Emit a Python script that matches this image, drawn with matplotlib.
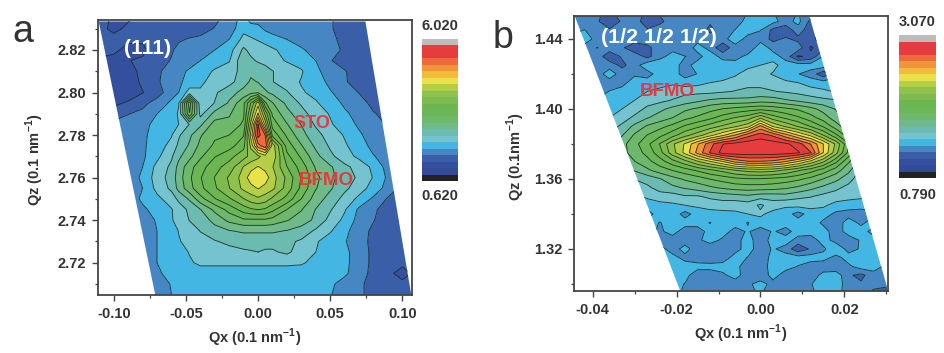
import numpy as np
import matplotlib

matplotlib.use("Agg")
import matplotlib.pyplot as plt
from matplotlib.colors import ListedColormap, BoundaryNorm
from matplotlib.patches import Polygon

plt.rcParams["font.family"] = ["Liberation Sans", "DejaVu Sans"]
plt.rcParams["font.weight"] = "bold"
plt.rcParams["mathtext.fontset"] = "custom"
plt.rcParams["mathtext.bf"] = "Liberation Sans:bold"
plt.rcParams["mathtext.rm"] = "Liberation Sans:bold"

W, H = 945, 353
INK = "#333333"
RED = "#e8383d"

band_colors = ["#324a9a", "#354f9f", "#3a5ea8", "#4686c2", "#44b6e4",
               "#76c3d0", "#6bbbb0", "#6fba88", "#6db86a", "#6bb655",
               "#6cb651", "#7dbb4e", "#8fc24c", "#b4cf45", "#e9e24b",
               "#f3bb3c", "#f1953a", "#ec6a3b", "#e73c3d", "#e73c3d"]
under_color = "#222222"
over_color = "#bdbdbd"

# panel a, (111) reflection
qx_a = [-0.11, -0.10, -0.09, -0.08, -0.07, -0.06, -0.055, -0.0475, -0.04, -0.03, -0.02, -0.01, -0.005,
        0.0, 0.005, 0.01, 0.02, 0.03, 0.04, 0.05, 0.06, 0.07, 0.08, 0.09, 0.10, 0.11]
qz_a = [2.835, 2.83, 2.825, 2.82, 2.815, 2.81, 2.805, 2.80, 2.795, 2.79, 2.785, 2.78, 2.775, 2.77,
        2.765, 2.76, 2.755, 2.75, 2.745, 2.74, 2.735, 2.73, 2.725, 2.72, 2.715, 2.71, 2.705]
intensity_a = [
    [1.3,1.1,1.1,1.3,1.3,1.3,1.3,1.3,1.3,1.35,1.55,1.8,1.55,1.55,1.55,1.55,1.55,1.55,1.5,1.45,1.35,1.3,1.3,1.3,1.3,1.3],
    [1.3,1.05,1.25,1.3,1.3,1.3,1.3,1.3,1.3,1.45,1.55,1.9,1.85,1.8,1.65,1.55,1.55,1.55,1.5,1.45,1.35,1.3,1.3,1.3,1.3,1.3],
    [1.3,1.3,1.2,1.2,1.3,1.3,1.4,1.45,1.5,1.55,1.7,2.05,2.0,1.95,1.9,1.85,1.7,1.55,1.5,1.5,1.35,1.3,1.3,1.3,1.3,1.3],
    [1.3,1.2,1.1,1.1,1.3,1.4,1.5,1.55,1.55,1.7,1.85,2.3,2.15,2.1,2.05,2.0,1.9,1.75,1.55,1.5,1.4,1.3,1.3,1.3,1.3,1.3],
    [1.1,1.1,1.15,1.2,1.3,1.45,1.5,1.55,1.7,1.85,1.95,2.45,2.3,2.2,2.15,2.05,1.95,1.85,1.7,1.45,1.3,1.3,1.3,1.3,1.3,1.3],
    [1.0,1.0,1.1,1.2,1.4,1.5,1.6,1.75,1.85,2.0,2.1,2.35,2.45,2.45,2.35,2.25,2.1,2.0,1.75,1.6,1.45,1.3,1.3,1.3,1.3,1.3],
    [1.1,1.0,1.05,1.2,1.4,1.55,1.65,1.8,1.93,2.05,2.15,2.4,2.55,2.5,2.4,2.25,2.1,1.95,1.8,1.65,1.45,1.35,1.3,1.3,1.3,1.3],
    [1.15,1.0,1.0,1.15,1.3,1.6,1.7,2.1,2.0,2.2,2.4,2.6,2.7,2.75,2.55,2.45,2.27,2.0,1.9,1.72,1.6,1.42,1.3,1.3,1.3,1.3],
    [1.25,1.1,1.2,1.35,1.55,1.75,1.95,3.5,2.05,2.25,2.55,3.0,3.6,4.3,3.1,2.8,2.45,2.2,2.0,1.85,1.65,1.55,1.35,1.3,1.3,1.3],
    [1.3,1.3,1.42,1.5,1.7,1.85,2.0,3.3,2.15,2.6,2.75,3.0,3.9,4.7,3.8,3.0,2.6,2.35,2.1,1.95,1.75,1.6,1.45,1.35,1.3,1.3],
    [1.4,1.5,1.55,1.65,1.75,1.85,1.97,2.25,2.45,2.9,2.85,3.1,4.2,5.5,4.3,3.2,2.8,2.5,2.2,2.0,1.85,1.65,1.55,1.4,1.3,1.3],
    [1.5,1.5,1.55,1.65,1.8,1.95,2.2,2.45,2.75,3.0,3.05,3.3,4.5,5.6,5.2,3.5,3.0,2.6,2.35,2.1,1.95,1.75,1.55,1.45,1.3,1.3],
    [1.5,1.5,1.55,1.65,1.85,2.05,2.3,2.55,2.85,3.1,3.2,3.5,4.2,5.1,5.4,4.3,3.2,2.8,2.45,2.2,2.0,1.85,1.6,1.5,1.3,1.3],
    [1.5,1.5,1.5,1.65,1.9,2.2,2.45,2.7,3.0,3.3,3.5,3.75,3.95,4.05,4.3,4.35,3.4,3.0,2.6,2.3,2.1,1.9,1.72,1.55,1.35,1.3],
    [1.5,1.5,1.55,1.7,2.05,2.3,2.6,2.95,3.2,3.5,3.7,4.15,4.3,4.42,4.3,4.15,3.6,3.2,2.75,2.55,2.3,2.15,1.9,1.6,1.4,1.3],
    [1.5,1.5,1.55,1.75,2.1,2.35,2.65,3.0,3.3,3.6,3.9,4.25,4.55,4.62,4.55,4.25,3.8,3.3,2.85,2.6,2.35,2.2,1.95,1.65,1.4,1.3],
    [1.5,1.5,1.55,1.7,2.05,2.3,2.6,2.95,3.25,3.55,3.85,4.2,4.3,4.42,4.3,4.2,3.75,3.25,2.8,2.55,2.3,2.1,1.85,1.6,1.35,1.3],
    [1.5,1.45,1.55,1.75,1.9,2.1,2.3,2.55,2.95,3.3,3.55,3.85,4.0,4.08,4.0,3.8,3.5,3.05,2.65,2.4,2.15,1.9,1.65,1.4,1.3,1.3],
    [1.5,1.45,1.5,1.65,1.8,1.95,2.1,2.3,2.5,2.85,3.15,3.45,3.55,3.6,3.55,3.4,3.05,2.8,2.5,2.27,2.0,1.65,1.5,1.25,1.3,1.3],
    [1.5,1.5,1.5,1.6,1.72,1.95,2.05,2.25,2.35,2.6,2.85,3.0,3.0,3.0,3.0,2.95,2.8,2.65,2.45,2.15,1.9,1.6,1.45,1.2,1.25,1.3],
    [1.5,1.5,1.5,1.55,1.7,1.85,1.98,2.1,2.25,2.4,2.5,2.55,2.55,2.55,2.55,2.55,2.5,2.4,2.2,2.0,1.75,1.6,1.35,1.2,1.2,1.3],
    [1.5,1.5,1.5,1.55,1.7,1.8,1.95,2.05,2.15,2.22,2.3,2.35,2.35,2.35,2.35,2.35,2.3,2.2,2.0,1.85,1.72,1.55,1.35,1.2,1.2,1.3],
    [1.5,1.5,1.5,1.55,1.7,1.8,1.9,1.98,2.05,2.1,2.15,2.2,2.22,2.24,2.2,2.2,2.3,2.1,1.97,1.85,1.75,1.6,1.35,1.2,1.2,1.3],
    [1.5,1.5,1.5,1.5,1.7,1.8,1.85,1.95,2.0,2.0,2.0,2.0,2.0,2.0,2.0,2.0,2.0,2.0,1.9,1.85,1.75,1.6,1.35,1.2,1.2,1.3],
    [1.5,1.5,1.5,1.5,1.65,1.8,1.85,1.85,1.9,1.9,1.9,1.9,1.9,1.9,1.9,1.9,1.9,1.85,1.85,1.8,1.75,1.55,1.35,1.2,1.1,1.2],
    [1.5,1.5,1.5,1.5,1.55,1.72,1.8,1.85,1.85,1.85,1.85,1.85,1.85,1.85,1.85,1.85,1.85,1.85,1.8,1.75,1.6,1.5,1.3,1.25,1.2,1.25],
    [1.5,1.5,1.5,1.5,1.55,1.7,1.8,1.85,1.85,1.85,1.85,1.85,1.85,1.85,1.85,1.85,1.85,1.8,1.8,1.72,1.55,1.5,1.3,1.25,1.25,1.25],
]
region_a = [(-0.1104, 2.8334), (0.0744, 2.8334), (0.1062, 2.7048), (-0.0712, 2.7048)]
vmin_a, vmax_a = 0.62, 6.02

# panel b, (1/2 1/2 1/2) reflection
qx_b = [-0.045, -0.042, -0.039, -0.036, -0.033, -0.03, -0.027, -0.024, -0.021, -0.018, -0.015, -0.012, -0.009,
        -0.006, -0.003, 0.0, 0.003, 0.006, 0.009, 0.012, 0.015, 0.018, 0.021, 0.024, 0.027, 0.03]
qz_b = [1.455, 1.45, 1.445, 1.44, 1.435, 1.43, 1.425, 1.42, 1.415, 1.41, 1.405, 1.40, 1.395, 1.39, 1.385, 1.38, 1.375,
        1.37, 1.365, 1.36, 1.355, 1.35, 1.345, 1.34, 1.335, 1.33, 1.325, 1.32, 1.315, 1.31, 1.305, 1.30, 1.295]
intensity_b = [
    [1.2,1.2,1.15,1.1,1.2,1.2,1.1,1.15,1.2,1.2,1.2,1.2,1.2,1.2,1.25,1.3,1.25,1.2,1.25,1.2,1.2,1.2,1.2,1.2,1.2,1.2],
    [1.2,1.2,1.15,1.05,1.15,1.2,1.05,1.1,1.2,1.2,1.2,1.15,1.2,1.2,1.28,1.32,1.28,1.2,1.28,1.1,1.2,1.2,1.2,1.2,1.2,1.2],
    [1.2,1.25,1.2,1.15,1.2,1.2,1.15,1.2,1.2,1.15,1.2,1.1,1.2,1.25,1.3,1.25,1.1,1.05,1.2,1.05,1.15,1.2,1.2,1.2,1.2,1.2],
    [1.3,1.32,1.2,1.15,1.2,1.2,1.2,1.2,1.15,1.2,1.2,1.2,1.2,1.32,1.2,1.2,1.1,1.15,1.1,1.1,1.2,1.2,1.2,1.2,1.2,1.2],
    [1.2,1.2,1.25,1.2,1.15,1.05,1.1,1.2,1.2,1.15,1.3,1.2,1.05,1.2,1.15,1.32,1.2,1.2,1.2,1.0,1.1,1.2,1.2,1.2,1.2,1.2],
    [1.2,1.2,1.2,1.05,1.15,1.2,1.1,1.2,1.3,1.25,1.2,1.32,1.2,1.2,1.28,1.32,1.3,1.2,1.0,1.05,1.25,1.2,1.2,1.2,1.2,1.2],
    [1.2,1.2,1.2,1.2,1.1,1.2,1.32,1.35,1.3,1.2,1.3,1.3,1.32,1.3,1.32,1.36,1.4,1.3,1.3,1.3,1.32,1.2,1.2,1.2,1.2,1.2],
    [1.2,1.2,1.2,1.3,1.2,1.22,1.2,1.3,1.3,1.2,1.25,1.32,1.3,1.34,1.42,1.4,1.35,1.3,1.25,1.2,1.05,1.2,1.2,1.2,1.2,1.2],
    [1.2,1.2,1.2,1.2,1.2,1.32,1.3,1.3,1.34,1.3,1.32,1.36,1.38,1.42,1.44,1.44,1.42,1.38,1.36,1.3,1.3,1.3,1.2,1.2,1.2,1.2],
    [1.2,1.2,1.2,1.25,1.3,1.32,1.36,1.4,1.42,1.44,1.44,1.44,1.46,1.48,1.5,1.5,1.48,1.46,1.44,1.42,1.38,1.35,1.3,1.2,1.2,1.2],
    [1.2,1.2,1.25,1.3,1.32,1.36,1.42,1.44,1.48,1.52,1.56,1.6,1.62,1.62,1.62,1.65,1.64,1.6,1.56,1.52,1.5,1.48,1.44,1.36,1.3,1.25],
    [1.25,1.3,1.3,1.32,1.36,1.42,1.5,1.56,1.62,1.68,1.72,1.78,1.82,1.85,1.88,1.9,1.88,1.84,1.8,1.74,1.66,1.58,1.5,1.4,1.3,1.25],
    [1.3,1.3,1.32,1.36,1.42,1.5,1.58,1.64,1.7,1.78,1.84,1.9,1.98,2.05,2.1,2.25,2.1,2.02,1.95,1.86,1.76,1.64,1.52,1.42,1.3,1.25],
    [1.3,1.32,1.36,1.42,1.5,1.62,1.72,1.78,1.85,1.95,2.02,2.1,2.18,2.26,2.35,2.65,2.38,2.26,2.15,2.04,1.92,1.76,1.62,1.48,1.35,1.3],
    [1.3,1.35,1.42,1.5,1.58,1.72,1.82,1.9,2.0,2.12,2.22,2.35,2.48,2.62,2.8,2.9,2.82,2.66,2.5,2.36,2.16,1.96,1.75,1.55,1.38,1.3],
    [1.3,1.38,1.46,1.56,1.66,1.78,1.9,2.05,2.25,2.4,2.6,2.8,2.95,3.0,3.03,3.03,3.02,2.98,2.9,2.72,2.5,2.25,1.95,1.65,1.42,1.3],
    [1.3,1.38,1.46,1.56,1.66,1.76,1.85,2.0,2.22,2.42,2.65,2.85,3.0,3.02,3.02,3.02,3.02,3.0,2.97,2.85,2.5,2.2,1.9,1.62,1.42,1.3],
    [1.3,1.36,1.42,1.52,1.6,1.7,1.78,1.88,2.0,2.12,2.26,2.38,2.5,2.65,2.72,2.72,2.7,2.62,2.5,2.35,2.18,1.96,1.72,1.55,1.38,1.3],
    [1.3,1.34,1.4,1.46,1.52,1.6,1.68,1.76,1.82,1.88,1.95,2.02,2.08,2.16,2.2,2.22,2.2,2.14,2.06,1.98,1.88,1.76,1.62,1.45,1.35,1.3],
    [1.3,1.3,1.34,1.38,1.42,1.48,1.52,1.58,1.66,1.72,1.76,1.82,1.86,1.9,1.92,1.92,1.9,1.88,1.84,1.78,1.7,1.62,1.52,1.4,1.32,1.3],
    [1.25,1.3,1.3,1.32,1.35,1.38,1.45,1.52,1.56,1.6,1.64,1.68,1.72,1.75,1.76,1.76,1.75,1.72,1.68,1.62,1.56,1.5,1.44,1.38,1.3,1.25],
    [1.25,1.3,1.3,1.3,1.3,1.33,1.38,1.42,1.42,1.46,1.46,1.5,1.52,1.54,1.56,1.52,1.52,1.54,1.5,1.48,1.44,1.42,1.4,1.38,1.3,1.25],
    [1.25,1.3,1.3,1.3,1.3,1.3,1.3,1.32,1.34,1.36,1.38,1.4,1.42,1.4,1.42,1.34,1.42,1.38,1.4,1.4,1.38,1.32,1.3,1.3,1.3,1.25],
    [1.25,1.3,1.3,1.3,1.3,1.3,1.2,1.3,1.32,1.2,1.3,1.32,1.32,1.34,1.36,1.38,1.32,1.3,1.2,1.3,1.3,1.22,1.2,1.18,1.22,1.25],
    [1.25,1.3,1.3,1.3,1.3,1.3,1.3,1.24,1.3,1.3,1.3,1.24,1.35,1.3,1.24,1.32,1.3,1.3,1.3,1.32,1.22,1.18,1.3,1.22,1.3,1.25],
    [1.25,1.3,1.3,1.3,1.3,1.3,1.3,1.22,1.3,1.18,1.18,1.3,1.3,1.2,1.26,1.18,1.26,1.2,1.3,1.3,1.3,1.18,1.3,1.3,1.2,1.22],
    [1.25,1.3,1.3,1.3,1.3,1.3,1.3,1.2,1.18,1.18,1.22,1.3,1.22,1.2,1.3,1.17,1.3,1.3,1.2,1.18,1.3,1.2,1.18,1.26,1.3,1.22],
    [1.25,1.3,1.3,1.3,1.3,1.3,1.3,1.3,1.18,1.3,1.17,1.15,1.15,1.2,1.3,1.18,1.26,1.2,1.05,1.15,1.22,1.35,1.2,1.26,1.3,1.22],
    [1.25,1.3,1.3,1.3,1.3,1.3,1.3,1.3,1.3,1.2,1.17,1.15,1.18,1.3,1.24,1.15,1.3,1.3,1.3,1.3,1.3,1.2,1.3,1.3,1.3,1.22],
    [1.25,1.3,1.3,1.3,1.3,1.3,1.3,1.3,1.3,1.32,1.3,1.3,1.3,1.3,1.15,1.18,1.3,1.3,1.24,1.18,1.15,1.15,1.22,1.3,1.3,1.22],
    [1.25,1.3,1.3,1.3,1.3,1.3,1.3,1.3,1.3,1.3,1.15,1.15,1.22,1.3,1.17,1.15,1.3,1.18,1.15,1.15,1.3,1.32,1.15,1.1,1.2,1.2],
    [1.25,1.3,1.3,1.3,1.3,1.3,1.3,1.3,1.3,1.24,1.18,1.15,1.15,1.18,1.22,1.3,1.2,1.15,1.15,1.24,1.3,1.32,1.18,1.15,1.15,1.15],
    [1.25,1.3,1.3,1.3,1.3,1.3,1.3,1.3,1.3,1.22,1.18,1.15,1.15,1.18,1.22,1.26,1.18,1.15,1.15,1.22,1.3,1.3,1.18,1.15,1.12,1.1],
]
region_b = [(-0.0443, 1.4531), (0.01167, 1.4531), (0.0305, 1.2958), (-0.0191, 1.2958)]
vmin_b, vmax_b = 0.79, 3.07

xticks_a = [-0.10, -0.05, 0.00, 0.05, 0.10]
yticks_a = [2.72, 2.74, 2.76, 2.78, 2.80, 2.82]
xticks_b = [-0.04, -0.02, 0.00, 0.02]
yticks_b = [1.32, 1.36, 1.40, 1.44]


def px_axes(fig, left, top, right, bottom):
    """axes from pixel edges, y counted from the top of the figure"""
    return fig.add_axes([left / W, 1 - bottom / H, (right - left) / W, (bottom - top) / H])


def draw_map(ax, qx, qz, z, region, vmin, vmax):
    levels = np.linspace(vmin, vmax, len(band_colors) + 1)
    cmap = ListedColormap(band_colors)
    cmap.set_under(under_color)
    cmap.set_over(over_color)
    norm = BoundaryNorm(levels, cmap.N)
    cf = ax.contourf(qx, qz, z, levels=levels, cmap=cmap, norm=norm, extend="both")
    cl = ax.contour(qx, qz, z, levels=levels, colors="#16261c", linewidths=0.65, alpha=0.85)
    clip = Polygon(region, closed=True, transform=ax.transData)
    cf.set_clip_path(clip)
    cl.set_clip_path(clip)
    return cf


def style_axes(ax, xlim, ylim, xticks, yticks, xminor, yminor):
    ax.set_xlim(*xlim)
    ax.set_ylim(*ylim)
    ax.set_xticks(xticks)
    ax.set_yticks(yticks)
    ax.set_xticks(xminor, minor=True)
    ax.set_yticks(yminor, minor=True)
    ax.set_xticklabels([f"{t:.2f}" for t in xticks])
    ax.set_yticklabels([f"{t:.2f}" for t in yticks])
    ax.tick_params(which="major", direction="out", length=4.5, width=1.0, color="#444444",
                   labelsize=10.5, labelcolor=INK, pad=4)
    ax.tick_params(which="minor", direction="out", length=2.5, width=0.9, color="#444444")
    for s in ax.spines.values():
        s.set_linewidth(1.3)
        s.set_color("#444444")


def draw_scale(fig, cf, box, top_label, bottom_label, top_y, bottom_y):
    cax = px_axes(fig, *box)
    cb = fig.colorbar(cf, cax=cax, extend="both", extendrect=True, extendfrac=0.05, drawedges=False)
    cb.set_ticks([])
    cb.minorticks_off()
    cb.outline.set_visible(False)
    xc = (box[0] + box[2]) / 2
    fig.text(xc / W, 1 - top_y / H, top_label, ha="center", va="center", fontsize=10.5, color=INK)
    fig.text(xc / W, 1 - bottom_y / H, bottom_label, ha="center", va="center", fontsize=10.5, color=INK)


fig = plt.figure(figsize=(W / 100, H / 100), dpi=100)

# a
ax_a = px_axes(fig, 98, 20, 412, 295)
cf_a = draw_map(ax_a, qx_a, qz_a, intensity_a, region_a, vmin_a, vmax_a)
style_axes(ax_a, (-0.1109, 0.1067), (2.7048, 2.8341), xticks_a, yticks_a,
           [-0.075, -0.025, 0.025, 0.075], [2.71, 2.73, 2.75, 2.77, 2.79, 2.81, 2.83])
draw_scale(fig, cf_a, (422, 39, 458, 181), "6.020", "0.620", 26, 196)
ax_a.text(-0.0929, 2.8205, "(111)", color="white", fontsize=15, ha="left", va="center")
ax_a.text(0.0245, 2.7855, "STO", color=RED, fontsize=13, ha="left", va="center")
ax_a.text(0.0285, 2.7587, "BFMO", color=RED, fontsize=13.5, ha="left", va="center")

# b
ax_b = px_axes(fig, 574.3, 16, 888.3, 291)
cf_b = draw_map(ax_b, qx_b, qz_b, intensity_b, region_b, vmin_b, vmax_b)
style_axes(ax_b, (-0.0444, 0.0305), (1.296, 1.4531), xticks_b, yticks_b,
           [-0.03, -0.01, 0.01, 0.03], [1.30, 1.34, 1.38, 1.42])
draw_scale(fig, cf_b, (899, 35, 936, 178), "3.070", "0.790", 22, 195)
ax_b.text(-0.0380, 1.4410, "(1/2 1/2 1/2)", color="white", fontsize=15.4, ha="left", va="center")
ax_b.text(-0.0288, 1.4100, "BFMO", color=RED, fontsize=13.5, ha="left", va="center")

# panel letters and axis titles sit on the figure
fig.text(12 / W, 1 - 42 / H, "a", fontsize=27, fontweight="normal", color=INK, ha="left", va="baseline")
fig.text(493 / W, 1 - 48 / H, "b", fontsize=27, fontweight="normal", color=INK, ha="left", va="baseline")
xlabel = r"Qx (0.1 nm$^{\mathbf{-1}}$)"
fig.text(255 / W, 1 - 338 / H, xlabel, fontsize=10.5, color=INK, ha="center", va="center")
fig.text(741 / W, 1 - 334 / H, xlabel, fontsize=10.5, color=INK, ha="center", va="center")
fig.text(35 / W, 1 - 160 / H, r"Qz (0.1 nm$^{\mathbf{-1}}$)", fontsize=10.5, color=INK,
         rotation=90, ha="center", va="center")
fig.text(516 / W, 1 - 157 / H, r"Qz (0.1nm$^{\mathbf{-1}}$)", fontsize=10.5, color=INK,
         rotation=90, ha="center", va="center")

fig.savefig("out.png", dpi=100)
